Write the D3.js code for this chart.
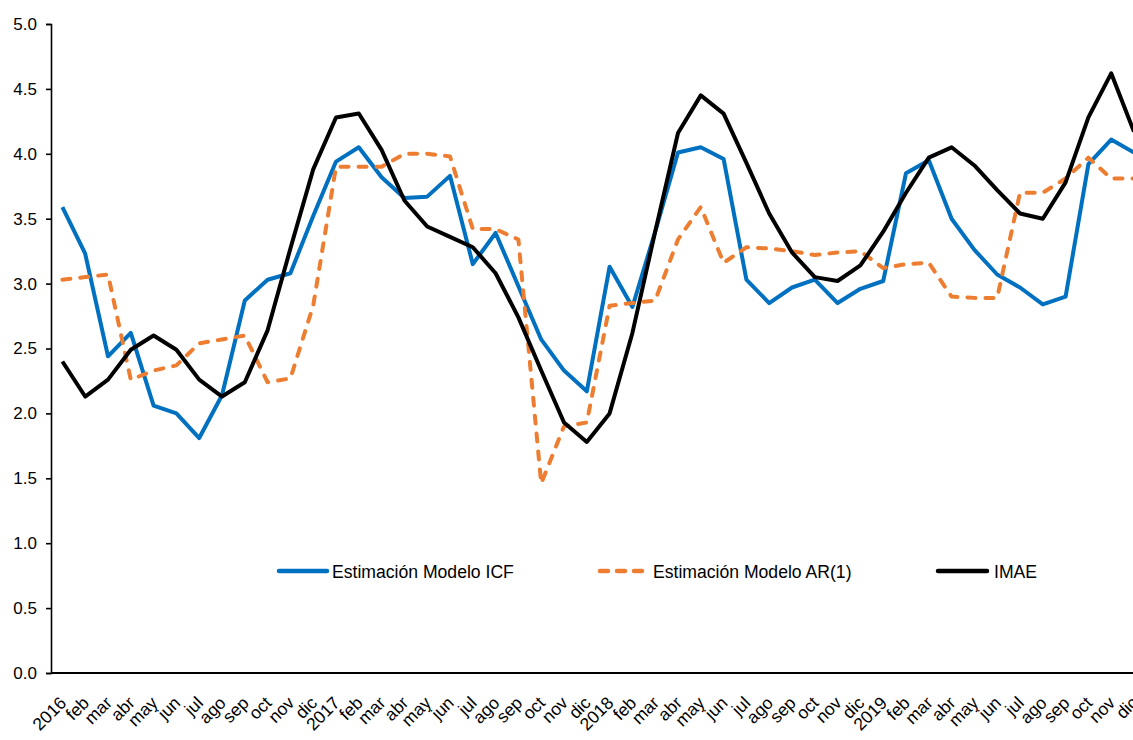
<!DOCTYPE html>
<html>
<head>
<meta charset="utf-8">
<script src="https://cdn.jsdelivr.net/npm/d3@7"></script>
<style>
  body { margin: 0; background: #fff; }
  svg { display: block; font-family: "Liberation Sans", Arial, sans-serif; }
</style>
</head>
<body>
<div id="chart"></div>
<script>
// month labels, 2016-01 .. 2019-12
const months = [
  "2016", "feb", "mar", "abr", "may", "jun", "jul", "ago", "sep", "oct", "nov", "dic",
  "2017", "feb", "mar", "abr", "may", "jun", "jul", "ago", "sep", "oct", "nov", "dic",
  "2018", "feb", "mar", "abr", "may", "jun", "jul", "ago", "sep", "oct", "nov", "dic",
  "2019", "feb", "mar", "abr", "may", "jun", "jul", "ago", "sep", "oct", "nov", "dic"
];

const icf = [
  3.59, 3.23, 2.44, 2.62, 2.06, 2.00, 1.81, 2.14, 2.87, 3.03, 3.08, 3.52,
  3.94, 4.05, 3.82, 3.66, 3.67, 3.83, 3.15, 3.39, 2.98, 2.57, 2.33, 2.17,
  3.13, 2.82, 3.40, 4.01, 4.05, 3.96, 3.03, 2.85, 2.97, 3.03, 2.85, 2.96,
  3.02, 3.85, 3.95, 3.50, 3.26, 3.07, 2.97, 2.84, 2.90, 3.92, 4.11, 4.01
];

const ar1 = [
  3.03, 3.05, 3.07, 2.26, 2.33, 2.37, 2.54, 2.57, 2.60, 2.24, 2.27, 2.83,
  3.90, 3.90, 3.90, 4.00, 4.00, 3.98, 3.42, 3.42, 3.34, 1.46, 1.90, 1.93,
  2.83, 2.85, 2.87, 3.34, 3.59, 3.16, 3.28, 3.27, 3.25, 3.22, 3.24, 3.25,
  3.12, 3.15, 3.16, 2.90, 2.89, 2.89, 3.70, 3.70, 3.81, 3.97, 3.81, 3.81
];

const imae = [
  2.40, 2.13, 2.26, 2.49, 2.60, 2.49, 2.26, 2.13, 2.24, 2.64, 3.27, 3.88,
  4.28, 4.31, 4.03, 3.64, 3.44, 3.36, 3.28, 3.08, 2.74, 2.33, 1.93, 1.78,
  2.00, 2.62, 3.40, 4.16, 4.45, 4.31, 3.93, 3.54, 3.24, 3.05, 3.02, 3.14,
  3.40, 3.70, 3.97, 4.05, 3.91, 3.72, 3.54, 3.50, 3.78, 4.28, 4.62, 4.17
];

const yTicks = [0, 0.5, 1, 1.5, 2, 2.5, 3, 3.5, 4, 4.5, 5];

const series = [
  { name: "Estimación Modelo ICF", values: icf, color: "#0070C0", dash: null },
  { name: "Estimación Modelo AR(1)", values: ar1, color: "#ED7D31", dash: "8,10" },
  { name: "IMAE", values: imae, color: "#000000", dash: null }
];

const W = 1133, H = 740;
const plotLeft = 51, plotTop = 24, plotBottom = 673;
const step = 22.8;

const svg = d3.select("#chart")
  .append("svg")
  .attr("width", W)
  .attr("height", H)
  .style("overflow", "hidden");

const x = d3.scaleBand()
  .domain(d3.range(months.length))
  .range([plotLeft, plotLeft + step * months.length])
  .paddingInner(0)
  .paddingOuter(0);

const y = d3.scaleLinear()
  .domain([0, 5])
  .range([plotBottom, plotTop]);

const xc = (i) => x(i) + x.bandwidth() / 2;

// y axis
const yAxis = svg.append("g")
  .attr("transform", `translate(${plotLeft},0)`)
  .call(d3.axisLeft(y).tickValues(yTicks).tickFormat(d3.format(".1f")).tickSize(5).tickPadding(9));
yAxis.select(".domain").attr("stroke", "#000").attr("stroke-width", 1.6);
yAxis.selectAll(".tick line").attr("stroke", "#000").attr("stroke-width", 1.6);
yAxis.selectAll(".tick text")
  .attr("fill", "#000")
  .style("font-size", "17px")
  .style("font-family", "'Liberation Sans', Arial, sans-serif");

// x axis line
svg.append("line")
  .attr("x1", plotLeft).attr("x2", W)
  .attr("y1", plotBottom).attr("y2", plotBottom)
  .attr("stroke", "#000")
  .attr("stroke-width", 2.2);

// x labels rotated
svg.append("g")
  .selectAll("text")
  .data(months)
  .enter()
  .append("text")
  .attr("transform", (d, i) => `translate(${xc(i) + 5},${plotBottom + 31}) rotate(-45)`)
  .attr("text-anchor", "end")
  .style("font-size", "17.5px")
  .attr("fill", "#000")
  .text((d) => d);

// lines
const line = d3.line()
  .x((d, i) => xc(i))
  .y((d) => y(d));

svg.append("g")
  .selectAll("path")
  .data(series)
  .enter()
  .append("path")
  .attr("d", (d) => line(d.values))
  .attr("fill", "none")
  .attr("stroke", (d) => d.color)
  .attr("stroke-width", 4)
  .attr("stroke-linejoin", "round")
  .attr("stroke-linecap", (d) => (d.dash ? "round" : "butt"))
  .attr("stroke-dasharray", (d) => d.dash);

// legend
const legendPos = [
  { x1: 279, x2: 327, tx: 332 },
  { x1: 600, x2: 642, tx: 653 },
  { x1: 938, x2: 987, tx: 994 }
];
const ly = 571;
const legend = svg.append("g")
  .selectAll("g")
  .data(series)
  .enter()
  .append("g");

legend.append("line")
  .attr("x1", (d, i) => legendPos[i].x1)
  .attr("x2", (d, i) => legendPos[i].x2)
  .attr("y1", ly).attr("y2", ly)
  .attr("stroke", (d) => d.color)
  .attr("stroke-width", 4.5)
  .attr("stroke-linecap", "round")
  .attr("stroke-dasharray", (d) => (d.dash ? "8,9" : null));

legend.append("text")
  .attr("x", (d, i) => legendPos[i].tx)
  .attr("y", ly + 6.5)
  .style("font-size", "17.6px")
  .attr("fill", "#000")
  .text((d) => d.name);
</script>
</body>
</html>
